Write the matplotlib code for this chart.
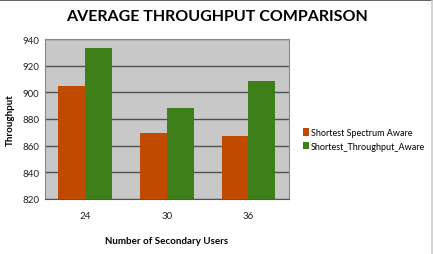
import matplotlib
matplotlib.use("Agg")
import matplotlib.pyplot as plt
import numpy as np
from matplotlib.lines import Line2D

categories = ["24", "30", "36"]
series_names = ["Shortest Spectrum Aware", "Shortest_Throughput_Aware"]
spectrum_vals = [905, 869.5, 867]
throughput_vals = [933.5, 888, 908.5]
yticks = [820, 840, 860, 880, 900, 920, 940]

colors = ["#C04A00", "#3F7F1A"]

plt.rcParams['font.family'] = ['Lato', 'DejaVu Sans']

fig = plt.figure(figsize=(4.33, 2.55), dpi=100)
ax = fig.add_axes([0.103, 0.216, 0.565, 0.627])
ax.set_facecolor("#C8C8C8")

x = np.arange(len(categories))
w = 0.33
ax.bar(x - w/2, spectrum_vals, w, color=colors[0], label=series_names[0], zorder=3)
ax.bar(x + w/2, throughput_vals, w, color=colors[1], label=series_names[1], zorder=3)

ax.set_xlim(-0.5, 2.5)
ax.set_ylim(820, 940)
ax.set_yticks(yticks)
ax.set_xticks(x)
ax.set_xticklabels(categories)
ax.yaxis.grid(True, color="#505050", linewidth=1.0, zorder=1)
ax.tick_params(axis='y', labelsize=7, colors="#222222", length=0, pad=4)
ax.tick_params(axis='x', labelsize=7, colors="#222222", length=0, pad=9)
for s in ["top", "right", "left"]:
    ax.spines[s].set_color("#888888")
    ax.spines[s].set_linewidth(0.8)
ax.spines["bottom"].set_color("#555555")

ax.set_xlabel("Number of Secondary Users", fontsize=7, fontweight="bold", labelpad=11)
ax.set_ylabel("Throughput", fontsize=7, fontweight="bold", labelpad=5)

fig.text(0.5, 0.935, "AVERAGE THROUGHPUT COMPARISON", ha="center", va="center",
         fontsize=11.5, fontweight="bold")

fig.legend(loc="center left", bbox_to_anchor=(0.68, 0.45), fontsize=6.5, frameon=False,
           handlelength=0.7, handleheight=0.9, handletextpad=0.2, labelspacing=0.5)

fig.lines.append(Line2D([0, 1], [0.998, 0.998], transform=fig.transFigure,
                        color="#444444", linewidth=1.2))
fig.lines.append(Line2D([0.998, 0.998], [0, 1], transform=fig.transFigure,
                        color="#CCCCCC", linewidth=1.2))

fig.savefig("out.png", dpi=100)
